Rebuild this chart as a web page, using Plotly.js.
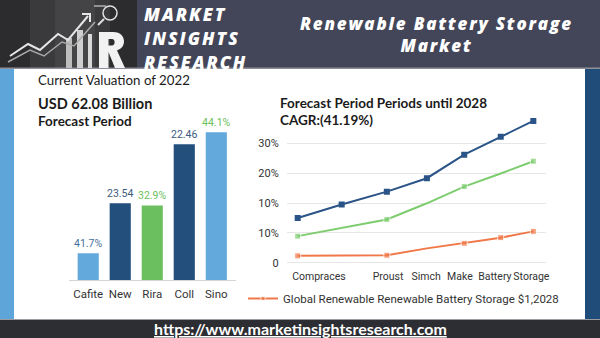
<!DOCTYPE html>
<html>
<head>
<meta charset="utf-8">
<script src="https://cdn.plot.ly/plotly-3.0.1.min.js"></script>
<style>
  html, body { margin: 0; padding: 0; background: #ffffff; }
  #chart { width: 600px; height: 338px; }
</style>
</head>
<body>
<div id="chart"></div>
<script>
// ---------- data ----------
const barCategories = ['Cafite', 'New', 'Rira', 'Coll', 'Sino'];
const barValues = [12.6, 36.2, 35.2, 64.0, 69.7];
const barLabels = ['41.7%', '23.54', '32.9%', '22.46', '44.1%'];

const lineX = [0, 1.12, 2.27, 3.29, 4.24, 5.17, 6.0];
const blueSeries = [15.0, 19.5, 23.8, 28.3, 36.2, 42.2, 47.5];
const greenSeries = [8.9, 11.6, 14.5, 19.9, 25.5, 29.9, 34.0];
const orangeSeries = [2.3, 2.4, 2.5, 4.8, 6.5, 8.4, 10.5];
const lineTickPos = [0.54, 2.30, 3.27, 4.13, 5.02, 5.95];
const lineTickText = ['Compraces', 'Proust', 'Simch', 'Make', 'Battery', 'Storage'];
const yTickVals = [0, 10, 20, 30, 40];
const yTickText = ['0', '10%', '10%', '20%', '30%'];
const legendName = 'Global Renewable Renewable Battery Storage $1,2028';
const brandLines = ['MARKET', 'INSIGHTS', 'RESEARCH'];
const titleLines = ['Renewable Battery Storage', 'Market'];

// ---------- helpers ----------
const W = 600, H = 338;
const X = p => p / W;
const Y = p => 1 - p / H;
const BODY = 'Lato, "Noto Sans", sans-serif';
const SMALL = 'Roboto, "Liberation Sans", sans-serif';
const HEAD = '"Open Sans", sans-serif';

const navy = '#234f7d', lightBlue = '#63a9db', green = '#6cbf5e';
const barColors = [lightBlue, navy, green, navy, lightBlue];
const barTextColors = ['#46709c', '#3d5b80', '#6cbf5e', '#3d5b80', '#6cbf5e'];

function rect(x0, y0, x1, y1, color, extra) {
  return Object.assign({type: 'rect', xref: 'paper', yref: 'paper',
    x0: X(x0), x1: X(x1), y0: Y(y1), y1: Y(y0),
    fillcolor: color, line: {width: 0}, layer: 'below'}, extra || {});
}
function seg(pts, color, width) {
  let d = 'M' + pts.map(p => X(p[0]) + ',' + Y(p[1])).join(' L');
  return {type: 'path', xref: 'paper', yref: 'paper', path: d,
    line: {color: color, width: width}, layer: 'above'};
}
function pathPx(cmds, fill) {
  let d = cmds.map(c => {
    if (c[0] === 'Z') return 'Z';
    let nums = [];
    for (let i = 1; i < c.length; i += 2) nums.push(X(c[i]) + ',' + Y(c[i + 1]));
    return c[0] + nums.join(' ');
  }).join(' ');
  return {type: 'path', xref: 'paper', yref: 'paper', path: d,
    fillcolor: fill, line: {width: 0}, layer: 'above'};
}
function ann(text, x, y, size, opts) {
  return Object.assign({text: text, xref: 'paper', yref: 'paper', x: X(x), y: Y(y),
    xanchor: 'left', yanchor: 'middle', showarrow: false, borderpad: 0,
    font: {family: BODY, size: size, color: '#1b1b1b'}}, opts || {});
}

// ---------- traces ----------
const traces = [
  {type: 'bar', x: barCategories, y: barValues, xaxis: 'x', yaxis: 'y',
   marker: {color: barColors}, text: barLabels, textposition: 'outside',
   constraintext: 'none',
   textfont: {family: SMALL, size: 10.5, color: barTextColors},
   cliponaxis: false, width: 0.66, showlegend: false, hoverinfo: 'skip'},
  {type: 'scatter', mode: 'lines+markers', x: lineX, y: blueSeries, xaxis: 'x2', yaxis: 'y2',
   line: {color: '#2a5487', width: 2}, marker: {symbol: 'square', size: 6, color: '#2a5487'},
   showlegend: false, hoverinfo: 'skip'},
  {type: 'scatter', mode: 'lines+markers', x: lineX, y: greenSeries, xaxis: 'x2', yaxis: 'y2',
   line: {color: '#7dcc6e', width: 2},
   marker: {symbol: 'square', size: [6, 0, 6, 0, 6, 0, 6], color: '#7dcc6e'},
   showlegend: false, hoverinfo: 'skip'},
  {type: 'scatter', mode: 'lines+markers', x: lineX, y: orangeSeries, xaxis: 'x2', yaxis: 'y2',
   name: legendName,
   line: {color: '#f07848', width: 2},
   marker: {symbol: 'square', size: [6, 0, 6, 0, 6, 6, 6], color: '#f07848'},
   showlegend: true, hoverinfo: 'skip'}
];

// ---------- shapes ----------
const shapes = [
  // header
  rect(0, 0, 600, 68, '#434658'),
  rect(0, 0, 137, 68, '#2c2c2e'),
  rect(30, 0, 110, 68, '#3a3a3c'),
  rect(55, 0, 95, 68, '#444446'),
  rect(0, 67.5, 600, 69, '#8d8f99'),
  // side strips & panel
  rect(0, 69, 14, 320, '#5ea6da'),
  rect(585, 69, 600, 320, '#1f4c79'),
  rect(14, 69, 585, 320, '#ffffff'),
  // footer
  rect(0, 320, 600, 338, '#2c2e33'),
  rect(0, 319, 600, 320, '#9a9ca2'),
  // logo bars
  rect(66, 38, 72, 68, '#bdbdbd', {layer: 'above'}),
  rect(77, 30, 83, 68, '#cfcfcf', {layer: 'above'}),
  rect(88, 34, 92, 68, '#d8d8d8', {layer: 'above'}),
  // logo arrows
  seg([[10, 56], [28, 44], [40, 50], [58, 34], [68, 40], [88, 16]], '#e6e6e6', 2),
  seg([[8, 62], [30, 50], [44, 56], [62, 42], [74, 46], [95, 22]], '#a8a8a8', 1.5),
  seg([[82, 14], [90, 14], [90, 22]], '#e6e6e6', 2),
  {type: 'circle', xref: 'paper', yref: 'paper', x0: X(103), x1: X(117), y0: Y(20), y1: Y(6),
   line: {color: '#e0e0e0', width: 1.5}, layer: 'above'},
  seg([[104, 19], [98, 25]], '#e0e0e0', 2),
  seg([[94, 6], [106, 6]], '#cfcfcf', 1.2),
  // logo "R" glyph
  pathPx([
    ['M', 99, 32], ['L', 113, 32], ['C', 121, 32, 124, 37, 124, 41.5],
    ['C', 124, 46, 121, 49, 117, 50.5], ['L', 125, 68], ['L', 115, 68],
    ['L', 108.5, 52], ['L', 108.5, 68], ['L', 99, 68], ['Z'],
    ['M', 108.5, 39], ['L', 108.5, 45.5], ['L', 112, 45.5],
    ['C', 115.5, 45.5, 115.5, 39, 112, 39], ['Z']
  ], '#f2f2f2')
];

// ---------- annotations ----------
const brandText = brandLines
  .map(s => '<span style="font-size:17.5px;letter-spacing:2px">' + s + '</span>').join('<br>');
const titleText = titleLines
  .map(s => '<span style="letter-spacing:1.8px">' + s + '</span>').join('<br>');
const annotations = [
  ann(brandText, 143, 38, 18.3,
      {font: {family: HEAD, size: 18.3, color: '#ffffff', weight: 800, style: 'italic'}, align: 'left'}),
  ann(titleText, 436, 35, 17,
      {xanchor: 'center', font: {family: HEAD, size: 17, color: '#ffffff', weight: 800, style: 'italic'}}),
  ann('Current Valuation of 2022', 37, 80, 13.3),
  ann('<b>USD 62.08 Billion</b>', 37, 103, 14.5),
  ann('<b>Forecast Period</b>', 37, 121, 13.5),
  ann('<b>Forecast Period Periods until 2028</b>', 279, 102.5, 13.5),
  ann('<b>CAGR:(41.19%)</b>', 279, 120, 13.5),
  ann('https://www.marketinsightsresearch.com', 300, 328, 16,
      {xanchor: 'center', font: {family: BODY, size: 16, color: '#ffffff', weight: 'bold', lineposition: 'under'}})
];

// ---------- layout ----------
const layout = {
  width: W, height: H,
  margin: {l: 0, r: 0, t: 0, b: 0, pad: 0, autoexpand: false},
  paper_bgcolor: '#ffffff', plot_bgcolor: 'rgba(0,0,0,0)',
  font: {family: SMALL, color: '#333333'},
  xaxis: {domain: [X(69), X(235.5)], range: [-0.6, 4.6], type: 'category', anchor: 'y',
          showline: true, linecolor: '#d4d4d4', linewidth: 1, ticks: '', showgrid: false,
          tickangle: 0, automargin: false, ticklabelstandoff: 3,
          tickfont: {family: SMALL, size: 11.5, color: '#333333'}, fixedrange: true},
  yaxis: {domain: [Y(280), Y(68)], range: [0, 100], visible: false, anchor: 'x', fixedrange: true},
  xaxis2: {domain: [X(286.7), X(545.7)], range: [-0.28, 6.315], anchor: 'y2',
           tickvals: lineTickPos, ticktext: lineTickText, showgrid: false, zeroline: false,
           showline: false, ticks: '', tickangle: 0, automargin: false, ticklabelstandoff: 2,
           tickfont: {family: SMALL, size: 10.5, color: '#333333'}},
  yaxis2: {domain: [Y(266), Y(118)], range: [-1.1, 48.47], anchor: 'x2',
           tickvals: yTickVals, ticktext: yTickText, showgrid: true, gridcolor: '#e6e6e6',
           zeroline: false, showline: false, ticks: '', ticklabelstandoff: 7, automargin: false,
           tickfont: {family: SMALL, size: 11, color: '#333333'}},
  showlegend: true,
  legend: {x: X(243), y: Y(284), xanchor: 'left', yanchor: 'top', orientation: 'h',
           bgcolor: 'rgba(0,0,0,0)', font: {family: SMALL, size: 11.5, color: '#333333'},
           itemwidth: 30, tracegroupgap: 0},
  shapes: shapes,
  annotations: annotations
};

Plotly.newPlot('chart', traces, layout, {displayModeBar: false, staticPlot: true});
</script>
</body>
</html>
